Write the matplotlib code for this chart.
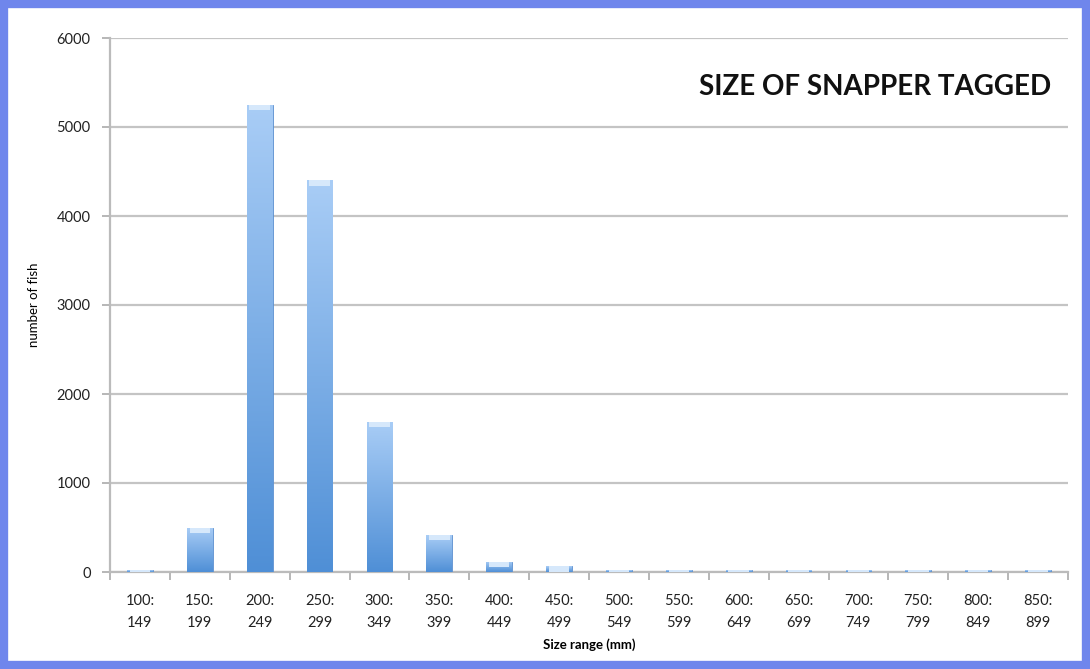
import numpy as np
import matplotlib.pyplot as plt
from matplotlib.patches import Rectangle
from matplotlib.colors import LinearSegmentedColormap

plt.rcParams['font.family'] = ['Lato', 'DejaVu Sans']

# size classes (mm) and counts of tagged snapper
size_lo = [100, 150, 200, 250, 300, 350, 400, 450, 500, 550, 600, 650, 700, 750, 800, 850]
size_hi = [149, 199, 249, 299, 349, 399, 449, 499, 549, 599, 649, 699, 749, 799, 849, 899]
counts = [20, 495, 5250, 4400, 1690, 415, 115, 65, 18, 18, 18, 18, 18, 18, 18, 18]
labels = [f"{a}:\n{b}" for a, b in zip(size_lo, size_hi)]

fig = plt.figure(figsize=(10.9, 6.69), dpi=100)
ax = fig.add_axes([110 / 1090, 1 - 572 / 669, (1068 - 110) / 1090, (572 - 38) / 669])

x = np.arange(len(counts))
bars = ax.bar(x, counts, width=0.43, color='#8fbcef', edgecolor='#5b8fcf', linewidth=0.6, zorder=3)

# vertical gradient in each bar, lighter at the top
cmap = LinearSegmentedColormap.from_list('bar', ['#4f8fd6', '#a9cdf6'])
grad = np.linspace(0, 1, 256).reshape(-1, 1)
for b in bars:
    x0, y0 = b.get_x(), b.get_y()
    w, h = b.get_width(), b.get_height()
    im = ax.imshow(grad, extent=[x0, x0 + w, y0, y0 + h], origin='lower',
                   cmap=cmap, aspect='auto', zorder=3.5)
    im.set_clip_path(b)
    # light cap at the top
    ax.bar(x0 + w / 2, min(h, 60), bottom=y0 + h - min(h, 60), width=w * 0.8,
           color='#d6e8fb', linewidth=0, zorder=4)

ax.set_xlim(-0.5, len(counts) - 0.5)
ax.set_ylim(0, 6000)
ax.set_yticks(range(0, 6001, 1000))
ax.set_xticks(x)
ax.set_xticklabels(labels, fontsize=10.5, color='#222222', linespacing=1.7)
ax.set_xticks(np.arange(-0.5, len(counts), 1), minor=True)
ax.tick_params(axis='x', which='major', length=0, pad=16)
ax.tick_params(axis='x', which='minor', length=6, color='#aaaaaa', width=1.2)
ax.tick_params(axis='y', length=6, color='#aaaaaa', width=1.2, labelsize=10.5, labelcolor='#222222', pad=8)

ax.grid(axis='y', color='#c4c4c4', linewidth=1.6, zorder=0)
for s in ['top', 'right']:
    ax.spines[s].set_visible(False)
ax.spines['left'].set_color('#bbbbbb')
ax.spines['left'].set_linewidth(1.6)
ax.spines['bottom'].set_color('#bbbbbb')
ax.spines['bottom'].set_linewidth(1.6)

ax.set_ylabel('number of fish', fontsize=9.5, labelpad=12)
ax.set_xlabel('Size range (mm)', fontsize=9.5, fontweight='bold', labelpad=6)

ax.text(0.982, 0.908, 'SIZE OF SNAPPER TAGGED', transform=ax.transAxes,
        ha='right', va='center', fontsize=20, fontweight='bold', color='#111111')

# blue frame around the chart
fig.patches.append(Rectangle((0.004, 0.006), 0.992, 0.988, transform=fig.transFigure,
                             fill=False, edgecolor='#6f86ec', linewidth=6))

fig.savefig('out.png', dpi=100)
